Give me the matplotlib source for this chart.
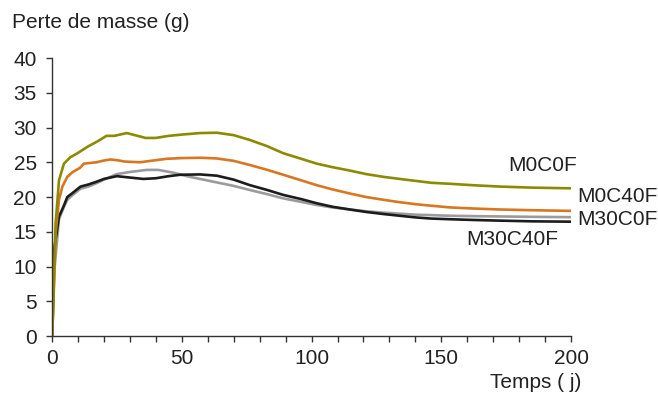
import numpy as np
import matplotlib
matplotlib.use('Agg')
import matplotlib.pyplot as plt

plt.rcParams['font.family'] = ['Liberation Sans', 'DejaVu Sans']

#%% donnees
t_m0c0f = [0, 0.5, 1.4, 2.7, 4.6, 7, 9.8, 14, 17.5, 21, 24, 28.8, 33, 36, 40, 45, 50.5, 57, 63.5,
           70, 76.3, 83, 89.1, 96, 102, 108, 114.8, 121, 127.7, 134, 140.5, 146, 153.4, 162, 172.6, 185, 200]
m0c0f = [0, 5, 16.2, 22.4, 24.8, 25.7, 26.3, 27.3, 28.0, 28.8, 28.8, 29.2, 28.8, 28.5, 28.5, 28.8, 29.0, 29.2, 29.25,
         28.9, 28.2, 27.3, 26.3, 25.5, 24.8, 24.3, 23.8, 23.3, 22.9, 22.6, 22.3, 22.05, 21.9, 21.7, 21.5, 21.35, 21.25]

t_m0c40f = [0, 0.5, 1.4, 2.7, 4, 5.9, 8, 10.8, 12.3, 17.2, 19.4, 22.4, 25, 28, 33.9, 38, 44.2, 50, 57, 63.5,
            70, 76.3, 83, 89.1, 96, 102, 108, 114.8, 121, 127.7, 134, 140.5, 146, 153.4, 162, 172.6, 185, 200]
m0c40f = [0, 4, 14.8, 19.6, 21.5, 22.9, 23.6, 24.2, 24.8, 25.0, 25.2, 25.4, 25.3, 25.1, 25.0, 25.2, 25.5, 25.6, 25.65, 25.55,
          25.2, 24.6, 23.9, 23.2, 22.4, 21.7, 21.1, 20.5, 20.0, 19.6, 19.25, 18.95, 18.75, 18.5, 18.35, 18.2, 18.1, 18.0]

t_m30c40f = [0, 0.3, 0.8, 2.7, 4.4, 5.9, 8, 11, 14, 17.2, 20, 25, 30, 35.2, 40, 45, 49.3, 57, 63.5,
             70, 76.3, 83, 89.1, 96, 102, 108, 114.8, 121, 127.7, 134, 140.5, 146, 153.4, 162, 172.6, 185, 200]
m30c40f = [0, 5, 12.4, 17.2, 18.6, 20.0, 20.6, 21.5, 21.8, 22.2, 22.6, 23.0, 22.8, 22.6, 22.7, 23.0, 23.2, 23.25, 23.07,
           22.5, 21.7, 21.0, 20.3, 19.7, 19.1, 18.6, 18.2, 17.85, 17.55, 17.3, 17.05, 16.9, 16.8, 16.7, 16.6, 16.5, 16.45]

t_m30c0f = [0, 0.4, 0.8, 2.7, 4.4, 5.9, 8, 11, 14, 17.2, 20, 25, 30, 36.5, 41, 46.7, 52, 57, 63.5,
            70, 76.3, 83, 89.1, 96, 102, 108, 114.8, 121, 127.7, 134, 140.5, 146, 153.4, 162, 172.6, 185, 200]
m30c0f = [0, 3, 9, 16.8, 18.4, 19.6, 20.3, 21.2, 21.5, 22.0, 22.5, 23.3, 23.6, 23.9, 23.9, 23.5, 23.0, 22.6, 22.1,
          21.6, 21.0, 20.4, 19.8, 19.3, 18.85, 18.5, 18.2, 17.95, 17.75, 17.6, 17.45, 17.4, 17.3, 17.25, 17.2, 17.15, 17.1]

noms = ['M0C0F', 'M0C40F', 'M30C0F', 'M30C40F']
pos_noms = [(175.7, 24.6), (202.3, 20.1), (202.3, 16.8), (159.5, 13.9)]

#%%
fig = plt.figure(figsize=(6.58, 3.96), dpi=100)
ax = fig.add_axes([0.079, 0.1515, 0.789, 0.702])

ax.plot(t_m30c0f, m30c0f, '-', color='#9b9b9d', lw=1.9, solid_capstyle='butt')
ax.plot(t_m30c40f, m30c40f, '-', color='#1c1c1c', lw=1.9, solid_capstyle='butt')
ax.plot(t_m0c40f, m0c40f, '-', color='#d8771f', lw=1.9, solid_capstyle='butt')
ax.plot(t_m0c0f, m0c0f, '-', color='#8c8a00', lw=1.9, solid_capstyle='butt')

for nom, (x, y) in zip(noms, pos_noms):
    ax.text(x, y, nom, fontsize=15, va='center', ha='left', color='#222222', clip_on=False)

ax.set_xlim(0, 200)
ax.set_ylim(0, 40)
ax.set_xticks(np.arange(0, 201, 10))
ax.set_xticklabels([str(v) if v % 50 == 0 else '' for v in range(0, 201, 10)])
ax.set_yticks(np.arange(0, 41, 5))
ax.tick_params(labelsize=15, length=4, width=1, color='#333333', labelcolor='#222222')
ax.tick_params(axis='x', pad=5)
ax.tick_params(axis='y', pad=7)
for s in ['top', 'right']:
    ax.spines[s].set_visible(False)
for s in ['left', 'bottom']:
    ax.spines[s].set_color('#333333')
    ax.spines[s].set_linewidth(1)

fig.text(0.018, 0.944, 'Perte de masse (g)', fontsize=15, va='center', ha='left', color='#222222')
fig.text(0.884, 0.033, 'Temps ( j)', fontsize=15, va='center', ha='right', color='#222222')

fig.savefig('out.png', dpi=100)
